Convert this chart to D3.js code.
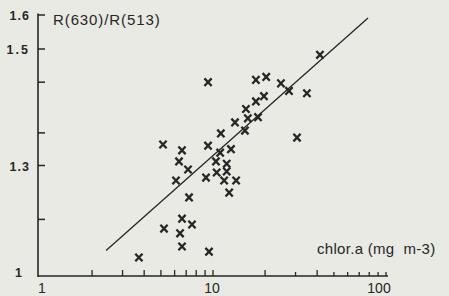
<!DOCTYPE html>
<html>
<head>
<meta charset="utf-8">
<script src="https://cdn.jsdelivr.net/npm/d3@7"></script>
<style>
  html, body { margin: 0; padding: 0; background: #e8eae3; }
  svg { display: block; }
  text { font-family: Arial, "Liberation Sans", Helvetica, sans-serif; fill: #262626; }
</style>
</head>
<body>
<svg id="chart" width="449" height="296"></svg>
<script>
// chlorophyll a (mg m-3), log scale
const chl = [5.14, 6.62, 6.36, 7.17, 6.11, 7.27, 5.21, 6.62, 7.56, 6.45,
             6.62, 3.73, 9.48, 9.36, 17.7, 20.3, 24.7, 27.5, 19.7, 17.7,
             15.5, 13.4, 15.9, 18.2, 15.3, 11.1, 9.36, 11.0, 12.7, 10.4,
             12.0, 10.5, 12.0, 9.11, 11.6, 13.6, 12.4, 30.6, 41.5, 34.9];
// reflectance ratio R(630)/R(513)
const ratio = [1.336, 1.326, 1.307, 1.289, 1.259, 1.213, 1.128, 1.155, 1.139, 1.115,
               1.079, 1.049, 1.065, 1.443, 1.447, 1.452, 1.441, 1.428, 1.419, 1.410,
               1.397, 1.374, 1.381, 1.383, 1.360, 1.355, 1.334, 1.322, 1.328, 1.307,
               1.303, 1.281, 1.284, 1.267, 1.259, 1.259, 1.226, 1.348, 1.490, 1.424];
// fitted line end points
const fitX = [2.41, 78.7];
const fitY = [1.068, 1.591];
// axis ticks
const xTickValues = [2, 3, 4, 5, 6, 7, 8, 9, 10, 20, 30, 40, 50, 60, 70, 80, 90, 100];
const xTickLabels = [1, 10, 100];
const yTickValues = [1.153, 1.3, 1.356, 1.443, 1.5, 1.6];
const yTickLabels = ["1", "1.3", "1.5", "1.6"];
const yLabelValues = [1, 1.3, 1.5, 1.6];

const ink = "#262626";
const svg = d3.select("#chart");

const x = d3.scaleLog().domain([1, 100]).range([40, 386]);
// the printed axis is not uniformly spaced: piecewise linear
const y = d3.scaleLinear().domain([1, 1.3, 1.5, 1.6]).range([275.5, 165.5, 49, 15]);

const axisX0 = 38, axisY0 = 276;

// y axis line
svg.append("line").attr("x1", axisX0).attr("x2", axisX0)
  .attr("y1", 13.5).attr("y2", axisY0 + 1)
  .attr("stroke", ink).attr("stroke-width", 1.6);
// x axis line
svg.append("line").attr("x1", axisX0).attr("x2", 388)
  .attr("y1", axisY0).attr("y2", axisY0)
  .attr("stroke", ink).attr("stroke-width", 1.6);

// y ticks (inward)
svg.append("g").selectAll("line").data(yTickValues).join("line")
  .attr("x1", axisX0).attr("x2", axisX0 + 7)
  .attr("y1", d => y(d)).attr("y2", d => y(d))
  .attr("stroke", ink).attr("stroke-width", 1.5);

// y labels
svg.append("g").selectAll("text").data(yLabelValues).join("text")
  .attr("x", (d, i) => i === 0 ? 23 : 30)
  .attr("y", (d, i) => i === 0 ? 273 : y(d) + 1)
  .attr("dy", "0.35em")
  .attr("text-anchor", "end")
  .attr("font-size", 12.5)
  .attr("font-weight", "bold")
  .attr("letter-spacing", (d, i) => i === 2 ? 2 : 1)
  .text((d, i) => yTickLabels[i]);

// x ticks (inward)
svg.append("g").selectAll("line").data(xTickValues).join("line")
  .attr("x1", d => x(d)).attr("x2", d => x(d))
  .attr("y1", axisY0).attr("y2", d => axisY0 - (d <= 20 || d === 40 ? 6 : 4))
  .attr("stroke", ink).attr("stroke-width", 1.3);

// x labels
svg.append("g").selectAll("text").data(xTickLabels).join("text")
  .attr("x", d => d === 1 ? 42 : d === 100 ? 379 : x(d) - 1)
  .attr("y", 293)
  .attr("text-anchor", "middle")
  .attr("font-size", 14)
  .text(d => d);

// axis titles
svg.append("text").attr("x", 53).attr("y", 24.5)
  .attr("font-size", 15).attr("letter-spacing", 0.9)
  .text("R(630)/R(513)");
svg.append("text").attr("x", 317).attr("y", 254)
  .attr("font-size", 15).attr("letter-spacing", 0.3)
  .style("white-space", "pre")
  .text("chlor.a (mg  m-3)");

// regression line
svg.append("line")
  .attr("x1", x(fitX[0])).attr("y1", y(fitY[0]))
  .attr("x2", x(fitX[1])).attr("y2", y(fitY[1]))
  .attr("stroke", ink).attr("stroke-width", 1.3);

// points
const pts = chl.map((c, i) => ({ c, r: ratio[i] }));
svg.append("g").selectAll("path").data(pts).join("path")
  .attr("transform", d => `translate(${x(d.c)},${y(d.r)})`)
  .attr("d", "M-3.6,-3.8L3.6,3.8M-3.6,3.8L3.6,-3.8")
  .attr("stroke", ink).attr("stroke-width", 2.3).attr("fill", "none");
</script>
</body>
</html>
